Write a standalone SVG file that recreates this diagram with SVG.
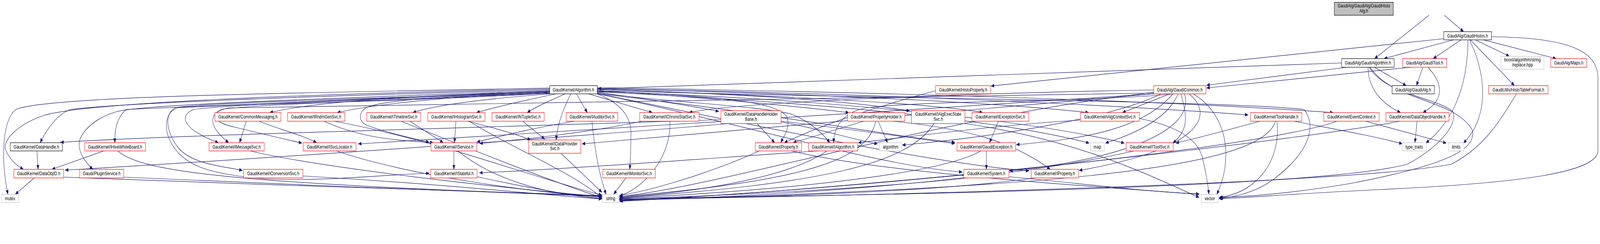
<svg xmlns="http://www.w3.org/2000/svg" width="5457" height="624" viewBox="0 0 5457 624" preserveAspectRatio="none">
<style>
svg{width:100vw;height:100vh}
.n rect{fill:#fff;stroke-width:1.2}
.r rect{stroke:#ff0000}
.b rect{stroke:#000}
.g rect{stroke:#bfbfbf}
.root rect{fill:#bfbfbf;stroke:#000}
.n text{font-family:"Liberation Sans",Arial,sans-serif;font-size:13px;fill:#000;text-anchor:middle}
#edges path{fill:none;stroke:#191970;stroke-width:1.2;marker-end:url(#ah)}
</style>
<defs>
<marker id="ah" markerWidth="11" markerHeight="9" refX="11" refY="4.5" orient="auto" markerUnits="userSpaceOnUse"><path d="M0,0 L11,4.5 L0,9 Z" fill="#191970" stroke="#191970" stroke-width="0.5"/></marker>
</defs>
<rect width="5457" height="624" fill="#fff"/>
<g id="edges">
<path d="M4874,39 L4688,150"/>
<path d="M4926,39 L4992,81"/>
<path d="M4957,102 L4720,150"/>
<path d="M4983,102 L4888,150"/>
<path d="M5032,102 L5148,144"/>
<path d="M5060,102 L5308,150"/>
<path d="M5015,102 L5165,219"/>
<path d="M4924,99 L3380,220"/>
<path d="M5012,102 C5070,190 5080,300 4991,366"/>
<path d="M5007,102 C5005,240 4940,320 4863,366"/>
<path d="M5087,94 C5350,96 5450,130 5450,200 L5450,385 C5450,440 5200,468 4700,485 C4400,496 4250,506 4157,508"/>
<path d="M4576,161 L2039,227"/>
<path d="M4593,172 L4115,218"/>
<path d="M4688,172 L4796,219"/>
<path d="M4666,172 C4665,230 4720,268 4777,288"/>
<path d="M4670,172 C4720,240 4900,250 4955,285 C4975,320 4900,380 4800,420 C4500,480 3000,500 2112,508"/>
<path d="M4673,172 C4750,260 4950,250 5020,330 C5040,380 4950,420 4600,470 C4400,495 4250,503 4157,505"/>
<path d="M4853,172 L4831,219"/>
<path d="M4870,172 C4930,220 4920,260 4853,288"/>
<path d="M4812,172 L4115,225"/>
<path d="M5172,240 C5100,330 5050,380 4950,420 C4600,470 3000,500 2112,510"/>
<path d="M3990,240 L3828,288"/>
<path d="M4018,240 C3985,300 3880,340 3770,366"/>
<path d="M4028,240 C4045,290 4060,330 4000,366"/>
<path d="M4007,240 C3700,262 3200,255 2960,275 C2880,285 2845,320 2843,365"/>
<path d="M4000,240 C3900,330 3700,355 3466,370"/>
<path d="M4040,240 C4080,340 3800,410 3443,437"/>
<path d="M4055,240 C4140,290 4110,380 3680,436"/>
<path d="M3960,240 C3800,300 3400,350 3077,371"/>
<path d="M3935,230 C3300,238 2500,262 2350,288"/>
<path d="M4070,240 C4200,300 4200,420 4150,497"/>
<path d="M3935,236 C3200,300 2500,470 2112,503"/>
<path d="M3935,238 C2500,250 1300,268 780,276 C710,285 705,320 780,365"/>
<path d="M3935,240 C3000,300 2300,345 1985,368"/>
<path d="M3935,240 C3000,290 1700,340 1222,368"/>
<path d="M1875,225 C1000,238 200,245 60,278 C10,295 0,400 27,497"/>
<path d="M1875,227 C1000,242 300,262 150,295 C60,318 5,360 20,385 C35,410 60,425 80,433"/>
<path d="M1875,229 C1000,247 400,265 240,280 C195,292 160,330 137,365"/>
<path d="M1875,231 C1200,250 500,266 400,285 C330,300 285,330 272,358 C262,385 290,415 317,433"/>
<path d="M1875,233 C1200,256 600,270 430,280 C400,300 390,330 392,365"/>
<path d="M1875,235 C1300,252 700,262 600,275 C565,285 560,330 605,375 C650,420 760,425 827,436"/>
<path d="M1875,236 C1300,254 800,266 660,280 C610,295 620,330 745,365"/>
<path d="M1875,237 C1500,252 900,265 760,279 C715,290 730,315 800,325 C880,340 950,352 1030,366"/>
<path d="M1875,238 C1500,256 800,268 610,275 C560,285 560,330 580,360 C620,420 700,445 900,457 C1100,465 1300,447 1464,443"/>
<path d="M1875,233 C1500,243 1100,255 920,288"/>
<path d="M1875,234 C1600,245 1300,262 1150,288"/>
<path d="M1878,240 C1700,250 1500,265 1408,288"/>
<path d="M1875,239 C1600,246 1330,250 1250,275 C1222,287 1222,310 1250,320 C1320,340 1400,352 1464,364"/>
<path d="M1897,240 C1800,255 1700,272 1625,288"/>
<path d="M1928,240 C1880,256 1830,272 1798,288"/>
<path d="M1947,240 C1920,280 1900,320 1897,358"/>
<path d="M1966,240 L2003,288"/>
<path d="M2007,240 L2225,288"/>
<path d="M2037,240 C2120,265 2152,300 2152,340 C2152,380 2150,410 2148,433"/>
<path d="M2037,236 C2200,252 2350,270 2452,285"/>
<path d="M2037,233 C2400,245 2650,255 2685,300 C2695,330 2672,350 2663,365"/>
<path d="M2037,231 C2400,250 2700,270 2895,288"/>
<path d="M2037,238 C2300,262 2600,272 2700,292 C2760,310 2805,340 2830,365"/>
<path d="M2037,228 C2500,240 2900,256 3103,284"/>
<path d="M2037,229 C2700,245 3200,266 3352,288"/>
<path d="M2037,240 C2600,285 3000,345 3257,364"/>
<path d="M2037,240 C2500,310 3000,425 3282,440"/>
<path d="M2037,239 C2600,325 3200,420 3510,437"/>
<path d="M2037,227 C2800,240 3400,262 3713,288"/>
<path d="M2037,235 C2800,262 3400,305 3715,366"/>
<path d="M2037,234 C2800,252 3500,305 3835,366"/>
<path d="M2037,226 C3000,240 3800,268 4257,294"/>
<path d="M2037,224 C3000,236 4000,258 4547,288"/>
<path d="M2037,232 C3000,252 4200,258 4448,280 C4490,320 4470,385 4350,455 C4280,495 4200,505 4160,507"/>
<path d="M2582,316 L2642,365"/>
<path d="M2459,306 C1500,330 600,345 206,364"/>
<path d="M2486,316 C1800,360 800,410 222,435"/>
<path d="M2664,310 C2900,330 3100,352 3257,367"/>
<path d="M2664,312 C2800,330 2900,355 2993,368"/>
<path d="M2590,386 C2400,450 2200,490 2113,500"/>
<path d="M2700,386 C3000,440 3600,470 4090,497"/>
<path d="M2945,310 L2705,365"/>
<path d="M2995,310 L3027,365"/>
<path d="M3047,310 C3300,330 3450,360 3582,433"/>
<path d="M2987,310 C2960,400 2800,460 2113,503"/>
<path d="M3191,232 C3000,270 2800,320 2675,365"/>
<path d="M2793,386 C2500,400 2000,430 1635,442"/>
<path d="M2820,386 C2700,450 2400,490 2113,505"/>
<path d="M3185,316 C3100,420 2800,470 2113,506"/>
<path d="M3291,316 C3700,360 3950,460 4090,505"/>
<path d="M3405,310 L3375,365"/>
<path d="M3364,386 L3364,433"/>
<path d="M3345,386 C3200,450 2600,490 2113,507"/>
<path d="M3300,455 C3000,480 2500,500 2113,509"/>
<path d="M3441,452 C3700,470 3900,490 4090,496"/>
<path d="M3530,455 C3200,490 2600,505 2113,511"/>
<path d="M3685,307 C3400,320 3100,350 2927,365"/>
<path d="M3886,303 C4000,320 4080,350 4100,400 C4110,430 4120,470 4123,497"/>
<path d="M3868,386 C3500,450 2800,500 2113,512"/>
<path d="M4297,310 C4200,330 4100,350 4010,366"/>
<path d="M4413,310 C4550,330 4700,350 4783,368"/>
<path d="M4355,310 C4370,400 4300,490 4160,505"/>
<path d="M4350,310 C4300,440 3500,480 2113,513"/>
<path d="M4657,310 L4933,366"/>
<path d="M4560,310 C4300,380 3000,480 2113,514"/>
<path d="M4833,310 L4826,365"/>
<path d="M4775,310 C4500,350 3200,470 2113,515"/>
<path d="M117,455 L52,497"/>
<path d="M217,453 C800,470 1600,490 2053,500"/>
<path d="M126,386 L130,433"/>
<path d="M354,386 L177,433"/>
<path d="M402,386 C480,440 800,470 2053,501"/>
<path d="M422,453 C900,470 1600,490 2053,502"/>
<path d="M853,386 C1100,430 1700,480 2053,503"/>
<path d="M840,310 L817,365"/>
<path d="M883,310 C950,330 1030,345 1080,365"/>
<path d="M1147,386 C1400,450 1800,490 2053,504"/>
<path d="M1105,310 C1250,360 1400,360 1478,365"/>
<path d="M1140,310 C1500,360 1800,450 2053,499"/>
<path d="M1398,310 L1512,365"/>
<path d="M1368,310 C1600,380 1900,470 2053,505"/>
<path d="M1555,310 L1550,365"/>
<path d="M1595,310 C1700,330 1770,345 1810,358"/>
<path d="M1600,310 C1750,380 1950,440 2053,506"/>
<path d="M1783,310 L1858,356"/>
<path d="M1548,386 L1548,433"/>
<path d="M1562,386 C1700,470 1900,500 2053,507"/>
<path d="M1627,452 C1800,480 1950,500 2053,508"/>
<path d="M1033,450 C1500,470 1800,495 2053,509"/>
<path d="M1913,392 L2053,492"/>
<path d="M1958,310 C1800,330 1700,350 1626,363"/>
<path d="M2019,310 C2030,400 2050,460 2067,497"/>
<path d="M2190,310 C2000,340 1800,355 1636,367"/>
<path d="M2285,310 C2290,400 2200,480 2113,501"/>
<path d="M2135,455 L2093,497"/>
</g>
<g id="n0" class="n root"><rect x="4551" y="6" width="201" height="33"/><text x="4651.5" y="19.5">GaudiAlg/GaudiAlg/GaudiHisto</text><text x="4651.5" y="32">Alg.h</text></g>
<g id="n1" class="n b"><rect x="4576" y="150" width="179" height="22"/><text x="4665.5" y="165.5">GaudiAlg/GaudiAlgorithm.h</text></g>
<g id="n2" class="n b"><rect x="4924" y="81" width="163" height="21"/><text x="5005.5" y="96">GaudiAlg/GaudiHistos.h</text></g>
<g id="n3" class="n r"><rect x="4784" y="150" width="150" height="22"/><text x="4859" y="165.5">GaudiAlg/GaudiTool.h</text></g>
<g id="n4" class="n g"><rect x="5119" y="144" width="147" height="33"/><text x="5192.5" y="157.5">boost/algorithm/string</text><text x="5192.5" y="170">/replace.hpp</text></g>
<g id="n5" class="n r"><rect x="5289" y="150" width="123" height="22"/><text x="5350.5" y="165.5">GaudiAlg/Maps.h</text></g>
<g id="n6" class="n r"><rect x="5077" y="219" width="203" height="21"/><text x="5178.5" y="234">GaudiUtils/HistoTableFormat.h</text></g>
<g id="n7" class="n b"><rect x="4748" y="219" width="144" height="21"/><text x="4820" y="234">GaudiAlg/GaudiAlg.h</text></g>
<g id="n8" class="n r"><rect x="4727" y="288" width="215" height="22"/><text x="4834.5" y="303.5">GaudiKernel/DataObjectHandle.h</text></g>
<g id="n9" class="n g"><rect x="4782" y="365" width="83" height="21"/><text x="4823.5" y="380">type_traits</text></g>
<g id="n10" class="n g"><rect x="4940" y="365" width="53" height="21"/><text x="4966.5" y="380">limits</text></g>
<g id="n11" class="n r"><rect x="4515" y="288" width="189" height="22"/><text x="4609.5" y="303.5">GaudiKernel/EventContext.h</text></g>
<g id="n12" class="n r"><rect x="4265" y="288" width="175" height="22"/><text x="4352.5" y="303.5">GaudiKernel/ToolHandle.h</text></g>
<g id="n13" class="n r"><rect x="3935" y="219" width="178" height="21"/><text x="4024" y="234">GaudiAlg/GaudiCommon.h</text></g>
<g id="n14" class="n r"><rect x="3685" y="288" width="201" height="22"/><text x="3785.5" y="303.5">GaudiKernel/IAlgContextSvc.h</text></g>
<g id="n15" class="n g"><rect x="3719" y="365" width="47" height="21"/><text x="3742.5" y="380">map</text></g>
<g id="n16" class="n r"><rect x="3841" y="365" width="160" height="21"/><text x="3921" y="380">GaudiKernel/IToolSvc.h</text></g>
<g id="n17" class="n g"><rect x="4097" y="497" width="58" height="21"/><text x="4126" y="512">vector</text></g>
<g id="n18" class="n r"><rect x="3191" y="219" width="188" height="21"/><text x="3285" y="234">GaudiKernel/HistoProperty.h</text></g>
<g id="n19" class="n r"><rect x="3315" y="288" width="194" height="22"/><text x="3412" y="303.5">GaudiKernel/IExceptionSvc.h</text></g>
<g id="n20" class="n r"><rect x="3264" y="365" width="200" height="21"/><text x="3364" y="380">GaudiKernel/GaudiException.h</text></g>
<g id="n21" class="n r"><rect x="3287" y="433" width="154" height="22"/><text x="3364" y="448.5">GaudiKernel/System.h</text></g>
<g id="n22" class="n r"><rect x="3517" y="433" width="161" height="22"/><text x="3597.5" y="448.5">GaudiKernel/IProperty.h</text></g>
<g id="n23" class="n r"><rect x="3109" y="283" width="182" height="33"/><text x="3200" y="296.5">GaudiKernel/IAlgExecState</text><text x="3200" y="309">Svc.h</text></g>
<g id="n24" class="n r"><rect x="2891" y="288" width="195" height="22"/><text x="2988.5" y="303.5">GaudiKernel/PropertyHolder.h</text></g>
<g id="n25" class="n r"><rect x="2758" y="365" width="167" height="21"/><text x="2841.5" y="380">GaudiKernel/IAlgorithm.h</text></g>
<g id="n26" class="n g"><rect x="3000" y="365" width="75" height="21"/><text x="3037.5" y="380">algorithm</text></g>
<g id="n27" class="n r"><rect x="2459" y="283" width="205" height="33"/><text x="2561.5" y="296.5">GaudiKernel/DataHandleHolder</text><text x="2561.5" y="309">Base.h</text></g>
<g id="n28" class="n r"><rect x="2576" y="365" width="158" height="21"/><text x="2655" y="380">GaudiKernel/Property.h</text></g>
<g id="n29" class="n b"><rect x="1875" y="219" width="162" height="21"/><text x="1956" y="234">GaudiKernel/Algorithm.h</text></g>
<g id="n30" class="n r"><rect x="1931" y="288" width="176" height="22"/><text x="2019" y="303.5">GaudiKernel/IAuditorSvc.h</text></g>
<g id="n31" class="n r"><rect x="2182" y="288" width="202" height="22"/><text x="2283" y="303.5">GaudiKernel/IChronoStatSvc.h</text></g>
<g id="n32" class="n r"><rect x="2056" y="433" width="179" height="22"/><text x="2145.5" y="448.5">GaudiKernel/IMonitorSvc.h</text></g>
<g id="n33" class="n g"><rect x="2055" y="497" width="55" height="21"/><text x="2082.5" y="512">string</text></g>
<g id="n34" class="n r"><rect x="1803" y="358" width="178" height="34"/><text x="1892" y="372">GaudiKernel/IDataProvider</text><text x="1892" y="384.5">Svc.h</text></g>
<g id="n35" class="n r"><rect x="1678" y="288" width="178" height="22"/><text x="1767" y="303.5">GaudiKernel/INTupleSvc.h</text></g>
<g id="n36" class="n r"><rect x="1459" y="288" width="195" height="22"/><text x="1556.5" y="303.5">GaudiKernel/IHistogramSvc.h</text></g>
<g id="n37" class="n r"><rect x="1470" y="365" width="156" height="21"/><text x="1548" y="380">GaudiKernel/IService.h</text></g>
<g id="n38" class="n r"><rect x="1469" y="433" width="158" height="22"/><text x="1548" y="448.5">GaudiKernel/IStateful.h</text></g>
<g id="n39" class="n r"><rect x="1251" y="288" width="184" height="22"/><text x="1343" y="303.5">GaudiKernel/ITimelineSvc.h</text></g>
<g id="n40" class="n r"><rect x="981" y="288" width="195" height="22"/><text x="1078.5" y="303.5">GaudiKernel/IRndmGenSvc.h</text></g>
<g id="n41" class="n r"><rect x="1034" y="365" width="180" height="21"/><text x="1124" y="380">GaudiKernel/ISvcLocator.h</text></g>
<g id="n42" class="n r"><rect x="733" y="288" width="225" height="22"/><text x="845.5" y="303.5">GaudiKernel/CommonMessaging.h</text></g>
<g id="n43" class="n r"><rect x="713" y="365" width="188" height="21"/><text x="807" y="380">GaudiKernel/IMessageSvc.h</text></g>
<g id="n44" class="n r"><rect x="831" y="433" width="202" height="22"/><text x="932" y="448.5">GaudiKernel/IConversionSvc.h</text></g>
<g id="n45" class="n r"><rect x="289" y="365" width="207" height="21"/><text x="392.5" y="380">GaudiKernel/IHiveWhiteBoard.h</text></g>
<g id="n46" class="n r"><rect x="272" y="433" width="150" height="22"/><text x="347" y="448.5">Gaudi/PluginService.h</text></g>
<g id="n47" class="n b"><rect x="35" y="365" width="178" height="21"/><text x="124" y="380">GaudiKernel/DataHandle.h</text></g>
<g id="n48" class="n r"><rect x="47" y="433" width="170" height="22"/><text x="132" y="448.5">GaudiKernel/DataObjID.h</text></g>
<g id="n49" class="n g"><rect x="5" y="497" width="59" height="21"/><text x="34.5" y="512">mutex</text></g>
</svg>
